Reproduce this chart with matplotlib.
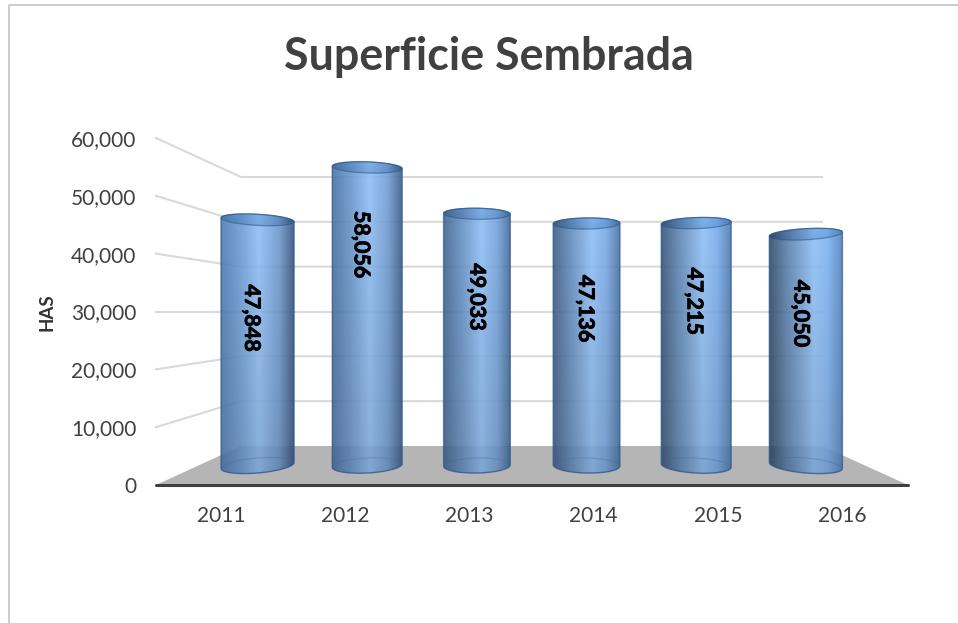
"""Superficie Sembrada: 3D style cylinder chart drawn on a flat matplotlib axes."""

import matplotlib.patheffects as pe
import matplotlib.pyplot as plt
import numpy as np
from matplotlib.colors import to_rgb
from matplotlib.lines import Line2D
from matplotlib.patches import Polygon
from matplotlib.ticker import StrMethodFormatter

YEARS = ["2011", "2012", "2013", "2014", "2015", "2016"]
HECTARES = [47848, 58056, 49033, 47136, 47215, 45050]
VALUE_TICKS = [0, 10000, 20000, 30000, 40000, 50000, 60000]

W, H = 958, 623
LEFT, RIGHT, BASE, TOP = 156, 908, 485, 138
VMAX = 60000
PX_X = 6 / (RIGHT - LEFT)
PX_Y = VMAX / (BASE - TOP)

# back wall in front-plane data units
BACK_X0, BACK_X1 = -0.5 + 85 * PX_X, -0.5 + 666 * PX_X
BACK_Y0, BACK_Y1 = 39 * PX_Y, 308 * PX_Y

LABEL_DROP_PX = [98, 77, 83, 85, 78, 79]
LABEL_SHIFT_PX = [-6, -6, 0, -1, -2, -5]
FONT = ["Lato", "DejaVu Sans"]


def back_point(x, value):
    bx = BACK_X0 + (x + 0.5) / 6 * (BACK_X1 - BACK_X0)
    by = BACK_Y0 + value / VMAX * (BACK_Y1 - BACK_Y0)
    return bx, by


def bar_x(i):
    bx, _ = back_point(i, 0)
    return i + 0.55 * (bx - i)


def bar_y(value):
    _, by = back_point(0, value)
    return value + 0.5 * (by - value)


def arc(cx, cy, a, b, tilt, start, stop):
    t = np.linspace(start, stop, 60)
    return np.column_stack(
        [cx + a * np.cos(t), cy + b * np.sin(t) + tilt * np.cos(t)]
    )


def gradient(i, peak_color, vfade):
    s = i / 5
    left = (1 - s) * np.array(to_rgb("#4f7cb5")) + s * np.array(to_rgb("#2f4b6a"))
    right = (1 - s) * np.array(to_rgb("#385680")) + s * np.array(to_rgb("#5687c2"))
    peak = np.array(to_rgb(peak_color))
    pos = 0.52 + 0.1 * s
    u = np.linspace(0, 1, 90)
    stops = [0, 0.25, pos, 0.8, 1]
    rows = []
    for c in range(3):
        vals = [left[c], 0.5 * (left[c] + peak[c]) - 0.02, peak[c], 0.55 * (peak[c] + right[c]), right[c]]
        rows.append(np.interp(u, stops, vals))
    img = np.stack(rows, axis=-1)[None, :, :].repeat(40, axis=0)
    fade = np.linspace(1, vfade, 40)[:, None, None]
    img = img * fade
    alpha = np.full(img.shape[:2] + (1,), 0.9)
    return np.concatenate([img, alpha], axis=-1)


def draw_cylinder(ax, i, value):
    s = (i - 2.5) / 2.5
    half = (32.5 + 1.6 * abs(i - 2.5)) * PX_X
    cx = bar_x(i)
    y0, y1 = bar_y(0), bar_y(value)
    top_b, bot_b = 5.5 * PX_Y, 7.5 * PX_Y
    top_tilt, bot_tilt = s * 2 * PX_Y, -s * 3 * PX_Y

    outline = np.vstack(
        [
            arc(cx, y0, half, bot_b, bot_tilt, np.pi, 2 * np.pi),
            arc(cx, y1, half, top_b, top_tilt, 0, np.pi),
        ]
    )
    body = Polygon(outline, closed=True, fc="none", ec="#2f5a8c", lw=1.0, alpha=0.8, zorder=5)
    ax.add_patch(body)
    im = ax.imshow(
        gradient(i, "#90c0f8", 0.86),
        extent=(cx - half, cx + half, y0 - bot_b - 4 * PX_Y, y1 + top_b + 4 * PX_Y),
        aspect="auto",
        interpolation="bilinear",
        zorder=4,
    )
    im.set_clip_path(body)

    cap = Polygon(
        arc(cx, y1, half, top_b, top_tilt, 0, 2 * np.pi),
        closed=True,
        fc="none",
        ec="#2f5a8c",
        lw=0.9,
        alpha=0.6,
        zorder=7,
    )
    ax.add_patch(cap)
    cap_im = ax.imshow(
        gradient(i, "#7fb2ee", 0.92),
        extent=(cx - half, cx + half, y1 - top_b - 4 * PX_Y, y1 + top_b + 4 * PX_Y),
        aspect="auto",
        interpolation="bilinear",
        zorder=6,
    )
    cap_im.set_clip_path(cap)

    rim = arc(cx, y0, half, bot_b, bot_tilt, 0, np.pi)
    ax.plot(rim[:, 0], rim[:, 1], color="#3a6aa5", lw=0.8, alpha=0.35, zorder=6)

    ax.text(
        cx + LABEL_SHIFT_PX[i] * PX_X,
        y1 - LABEL_DROP_PX[i] * PX_Y,
        f"{value:,}",
        rotation=-90,
        ha="center",
        va="center",
        fontsize=15.5,
        fontweight="bold",
        family=FONT,
        color="black",
        zorder=8,
        path_effects=[pe.withStroke(linewidth=0.6, foreground="black")],
    )


def main() -> int:
    fig = plt.figure(figsize=(W / 100, H / 100), dpi=100)
    ax = fig.add_axes(
        [LEFT / W, 1 - BASE / H, (RIGHT - LEFT) / W, (BASE - TOP) / H]
    )

    # floor
    floor = [(-0.5, 0), back_point(-0.5, 0), back_point(5.5, 0), (5.5, 0)]
    ax.add_patch(Polygon(floor, closed=True, fc="#b5b5b5", ec="none", zorder=1))

    # side wall and back wall lines
    for value in VALUE_TICKS[1:]:
        bx0, by = back_point(-0.5, value)
        bx1, _ = back_point(5.5, value)
        ax.plot(
            [-0.5, bx0, bx1],
            [value, by, by],
            color="#d9d9d9",
            lw=1.5,
            clip_on=False,
            zorder=2,
        )

    for i, value in enumerate(HECTARES):
        draw_cylinder(ax, i, value)

    ax.set_xlim(-0.5, 5.5)
    ax.set_ylim(0, VMAX)
    # year labels sit a little tighter than the category slots
    tick_x = [(221 + 124.2 * i - LEFT) * PX_X - 0.5 for i in range(len(YEARS))]
    ax.set_xticks(tick_x, YEARS)
    ax.set_yticks(VALUE_TICKS)
    ax.yaxis.set_major_formatter(StrMethodFormatter("{x:,.0f}"))
    ax.tick_params(axis="both", length=0, labelsize=15, labelcolor="#404040")
    ax.tick_params(axis="x", pad=15)
    ax.tick_params(axis="y", pad=14)
    for label in ax.get_xticklabels() + ax.get_yticklabels():
        label.set_family(FONT)
    for side in ("top", "left", "right"):
        ax.spines[side].set_visible(False)
    ax.spines["bottom"].set_linewidth(2.2)
    ax.spines["bottom"].set_color("#404040")
    ax.spines["bottom"].set_capstyle("round")
    ax.spines["bottom"].set_zorder(9)
    ax.patch.set_visible(False)

    ax.set_ylabel(
        "HAS",
        fontsize=13.5,
        fontweight="bold",
        family=FONT,
        color="#333333",
        va="center",
    )
    ax.yaxis.set_label_coords((47 - LEFT) / (RIGHT - LEFT), (BASE - 312) / (BASE - TOP))

    fig.text(
        488.5 / W,
        1 - 57 / H,
        "Superficie Sembrada",
        ha="center",
        va="center",
        fontsize=32.2,
        fontweight="bold",
        family=FONT,
        color="#404040",
    )

    # chart frame, only top and left edges are in the crop
    frame_x = [8.5 / W, 8.5 / W, 1]
    frame_y = [0, 1 - 4.5 / H, 1 - 4.5 / H]
    fig.add_artist(Line2D(frame_x, frame_y, color="#bfbfbf", lw=1.1))

    fig.savefig("out.png", dpi=100)
    return 0


if __name__ == "__main__":
    raise SystemExit(main())
